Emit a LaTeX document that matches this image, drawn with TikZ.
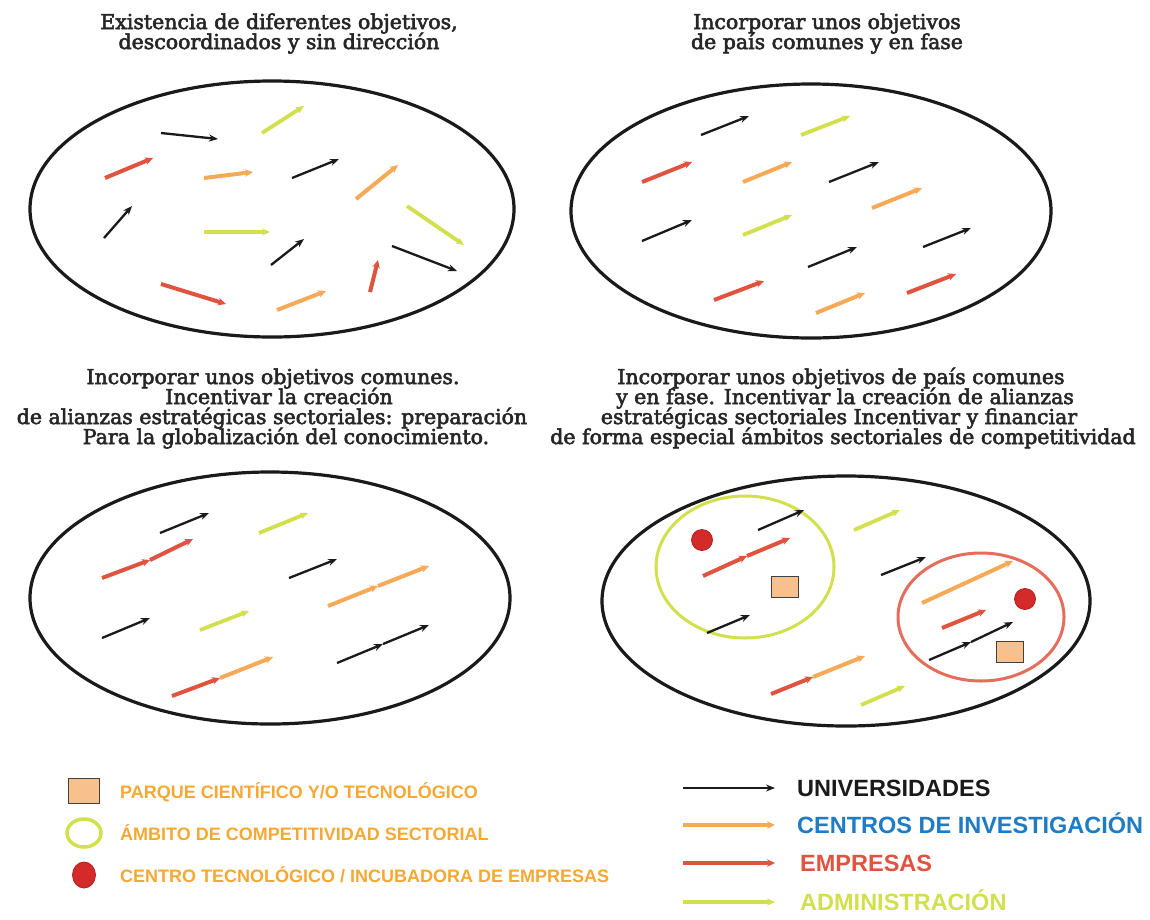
\documentclass[tikz,border=0pt]{standalone}
\usepackage{fontspec}
\setmainfont{DejaVu Serif}
\newfontfamily\legfont{Liberation Sans}
\usetikzlibrary{arrows.meta,shapes.geometric}
\definecolor{ublack}{HTML}{1A1A1A}
\definecolor{corange}{HTML}{F6AA58}
\definecolor{cred}{HTML}{E0533F}
\definecolor{cyel}{HTML}{D2E04E}
\definecolor{cblue}{HTML}{1E7BC4}
\definecolor{legor}{HTML}{F7A833}
\definecolor{sqfill}{HTML}{F8C08C}
\definecolor{dotred}{HTML}{D42A2A}
\definecolor{titlegray}{HTML}{262626}
\tikzset{
  ttl/.style={font=\fontsize{20.5}{21}\selectfont, text=titlegray, anchor=base, inner sep=0pt,
    execute at begin node={\special{pdf:literal direct 2 Tr 0.55 w}},
    execute at end node={\special{pdf:literal direct 0 Tr}}},
  ell/.style={draw=ublack, line width=3.2pt},
  ua/.style={draw=ublack, line width=2.3pt, -{Stealth[length=9pt,width=7pt]}},
  ca/.style={draw=corange, line width=4pt, -{Stealth[length=8pt,width=7.5pt]}},
  ea/.style={draw=cred, line width=4pt, -{Stealth[length=8pt,width=7.5pt]}},
  aa/.style={draw=cyel, line width=3.8pt, -{Stealth[length=8pt,width=7pt]}},
  sq/.style={draw=black!75, line width=1.5pt, fill=sqfill, minimum width=27pt, minimum height=21pt, inner sep=0pt},
  rdot/.style={circle, fill=dotred, draw=dotred!80!black, line width=0.8pt, minimum size=21pt, inner sep=0pt},
  legl/.style={font=\legfont\bfseries\fontsize{18}{18}\selectfont, text=legor, anchor=base west, inner sep=0pt},
  legr/.style={font=\legfont\bfseries\fontsize{23.5}{23.5}\selectfont, anchor=base west, inner sep=0pt},
}
\begin{document}
\begin{tikzpicture}[x=1pt,y=-1pt]
\useasboundingbox[fill=white] (0,0) rectangle (1150,919);

% ---------- Panel 1 ----------
\node[ttl] (t1a) at (279,29) {Existencia de diferentes objetivos,};
\node[ttl] (t1b) at (279,49) {descoordinados y sin dirección};
\draw[ell] (272,209) ellipse [x radius=242, y radius=128];
\draw[ua] (161,133) -- (218,139);
\draw[aa] (262,133) -- (304,106);
\draw[ea] (105,178) -- (153,158);
\draw[ca] (204,178) -- (253,172);
\draw[ua] (292,178) -- (339,159);
\draw[ca] (356,199) -- (398,165);
\draw[ua] (104,238) -- (132,206);
\draw[aa] (204,232) -- (270,232);
\draw[aa] (407,206) -- (464,245);
\draw[ua] (271,265) -- (304,239);
\draw[ua] (392,246) -- (457,271);
\draw[ea] (370,292) -- (378,260);
\draw[ea] (161,284) -- (226,304);
\draw[ca] (277,310) -- (326,291);

% ---------- Panel 2 ----------
\node[ttl] (t2a) at (827,29) {Incorporar unos objetivos};
\node[ttl] (t2b) at (827,49) {de país comunes y en fase};
\draw[ell] (811,211) ellipse [x radius=240, y radius=127];
\draw[ua] (701,135) -- (749,116);
\draw[aa] (801,135) -- (850,116);
\draw[ea] (642,182) -- (692,162);
\draw[ca] (743,182) -- (792,162);
\draw[ua] (829,182) -- (879,162);
\draw[ca] (872,208) -- (922,188);
\draw[ua] (642,241) -- (692,220);
\draw[aa] (743,235) -- (792,215);
\draw[ua] (923,247) -- (971,228);
\draw[ua] (808,267) -- (857,247);
\draw[ea] (714,300) -- (764,281);
\draw[ca] (816,313) -- (865,293);
\draw[ea] (907,293) -- (956,274);

% ---------- Panel 3 ----------
\node[ttl] (t3a) at (273,384) {Incorporar unos objetivos comunes.};
\node[ttl] (t3b) at (279,404) {Incentivar la creación};
\node[ttl] (t3c) at (272,424) {de alianzas estratégicas sectoriales: preparación};
\node[ttl] (t3d) at (286,444) {Para la globalización del conocimiento.};
\draw[ell] (270,598) ellipse [x radius=240, y radius=126];
\draw[ua] (160,533) -- (209,513);
\draw[aa] (259,533) -- (308,513);
\draw[ea] (102,578) -- (150,560);
\draw[ea] (150,560) -- (193,539);
\draw[ua] (289,578) -- (337,559);
\draw[ca] (328,606) -- (378,586);
\draw[ca] (378,586) -- (429,566);
\draw[ua] (102,638) -- (150,618);
\draw[aa] (200,630) -- (249,611);
\draw[ua] (337,663) -- (383,644);
\draw[ua] (383,644) -- (429,625);
\draw[ea] (172,696) -- (220,678);
\draw[ca] (220,678) -- (273,657);

% ---------- Panel 4 ----------
\node[ttl] (t4a) at (841,384) {Incorporar unos objetivos de país comunes};
\node[ttl] (t4b) at (845,404) {y en fase. Incentivar la creación de alianzas};
\node[ttl] (t4c) at (839,424) {estratégicas sectoriales Incentivar y financiar};
\node[ttl] (t4d) at (843,444) {de forma especial ámbitos sectoriales de competitividad};
\draw[ell] (846,601) ellipse [x radius=244, y radius=125];
\draw[cyel, line width=3pt] (745,567) ellipse [x radius=89, y radius=71];
\draw[cred!85!white, line width=3pt] (981,617) ellipse [x radius=83, y radius=64];
\node[rdot] (d1) at (702,540) {};
\node[sq] (s1) at (785,587) {};
\node[rdot] (d2) at (1025,599) {};
\node[sq] (s2) at (1010,652) {};
\draw[ua] (758,530) -- (804,510);
\draw[ea] (703,576) -- (747,556);
\draw[ea] (747,556) -- (790,538);
\draw[ua] (707,633) -- (750,615);
\draw[aa] (854,530) -- (900,510);
\draw[ua] (881,575) -- (926,557);
\draw[ca] (922,603) -- (1013,561);
\draw[ea] (942,628) -- (986,610);
\draw[ua] (929,660) -- (971,642);
\draw[ua] (971,642) -- (1013,622);
\draw[ea] (771,694) -- (813,677);
\draw[ca] (813,677) -- (865,656);
\draw[aa] (861,705) -- (905,686);

% ---------- Legend left ----------
\node[sq, minimum width=31pt, minimum height=25pt] (ls) at (84,791) {};
\draw[cyel, line width=3.5pt] (84,833) ellipse [x radius=17, y radius=14];
\node[rdot, ellipse, minimum width=23pt, minimum height=26pt] (ld) at (84,875) {};
\node[legl] (l1) at (120,798) {PARQUE CIENTÍFICO Y/O TECNOLÓGICO};
\node[legl] (l2) at (120,840) {ÁMBITO DE COMPETITIVIDAD SECTORIAL};
\node[legl] (l3) at (120,882) {CENTRO TECNOLÓGICO / INCUBADORA DE EMPRESAS};

% ---------- Legend right ----------
\coordinate (r1a) at (683,788); \coordinate (r1b) at (775,788);
\coordinate (r2a) at (683,825); \coordinate (r2b) at (775,825);
\coordinate (r3a) at (683,863); \coordinate (r3b) at (775,863);
\coordinate (r4a) at (683,902); \coordinate (r4b) at (775,902);
\draw[ua] (r1a) -- (r1b);
\draw[ca] (r2a) -- (r2b);
\draw[ea] (r3a) -- (r3b);
\draw[aa] (r4a) -- (r4b);
\node[legr, text=ublack] (u1) at (797,796) {UNIVERSIDADES};
\node[legr, text=cblue] (u2) at (797,833) {CENTROS DE INVESTIGACIÓN};
\node[legr, text=cred] (u3) at (800,871) {EMPRESAS};
\node[legr, text=cyel] (u4) at (800,910) {ADMINISTRACIÓN};
\end{tikzpicture}
\end{document}
